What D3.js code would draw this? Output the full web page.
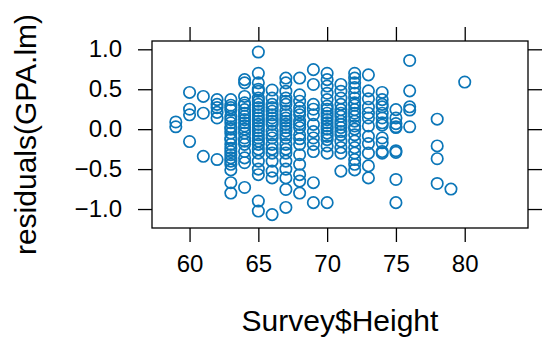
<!DOCTYPE html>
<html>
<head>
<meta charset="utf-8">
<script src="https://cdn.jsdelivr.net/npm/d3@7"></script>
<style>
  body { margin: 0; background: #fff; }
  text { font-family: "Liberation Sans", Arial, Helvetica, sans-serif; fill: #000; }
</style>
</head>
<body>
<div id="chart"></div>
<script>
// Survey$Height (inches) and residuals(GPA.lm), grouped by height
const heights = [59, 60, 61, 62, 63, 64, 65, 66, 67, 68, 69, 70, 71, 72, 73, 74, 75, 76, 78, 79, 80];
const residualsByHeight = [
    [0.09, 0.03],
    [0.46, 0.25, 0.18, -0.155],
    [0.41, 0.20, -0.34],
    [0.37, 0.31, 0.27, 0.21, 0.14, -0.38],
    [0.37, 0.30, 0.27, 0.24, 0.16, 0.12, 0.08, 0.03, 0.0, -0.05, -0.11, -0.13, -0.19, -0.24, -0.28, -0.32, -0.36, -0.40, -0.44, -0.51, -0.67, -0.80],
    [0.62, 0.58, 0.41, 0.33, 0.30, 0.245, 0.20, 0.16, 0.12, 0.08, 0.04, 0.0, -0.05, -0.11, -0.15, -0.19, -0.28, -0.36, -0.42, -0.73],
    [0.966, 0.70, 0.58, 0.50, 0.475, 0.39, 0.35, 0.31, 0.27, 0.225, 0.18, 0.14, 0.10, 0.06, 0.02, -0.025, -0.07, -0.11, -0.15, -0.19, -0.25, -0.30, -0.40, -0.50, -0.57, -0.90, -1.025],
    [0.49, 0.39, 0.31, 0.27, 0.225, 0.18, 0.14, 0.10, 0.06, -0.025, -0.07, -0.11, -0.19, -0.25, -0.30, -0.40, -0.525, -0.61, -1.07],
    [0.64, 0.58, 0.475, 0.39, 0.35, 0.31, 0.225, 0.18, 0.14, 0.10, 0.06, 0.02, -0.025, -0.07, -0.11, -0.19, -0.25, -0.30, -0.40, -0.50, -0.61, -0.755, -0.98],
    [0.64, 0.43, 0.35, 0.27, 0.22, 0.18, 0.10, 0.06, 0.02, -0.07, -0.12, -0.19, -0.32, -0.44, -0.57, -0.65, -0.80],
    [0.745, 0.56, 0.31, 0.25, 0.18, 0.06, -0.03, -0.11, -0.19, -0.28, -0.67, -0.92],
    [0.70, 0.62, 0.54, 0.45, 0.37, 0.29, 0.25, 0.20, 0.16, 0.12, 0.08, 0.04, 0.0, -0.05, -0.09, -0.13, -0.21, -0.30, -0.92],
    [0.56, 0.475, 0.39, 0.31, 0.245, 0.20, 0.16, 0.10, 0.06, 0.02, -0.03, -0.07, -0.15, -0.23, -0.30, -0.525],
    [0.70, 0.64, 0.58, 0.52, 0.45, 0.39, 0.33, 0.30, 0.245, 0.20, 0.16, 0.10, 0.04, 0.0, -0.07, -0.15, -0.23, -0.30, -0.38, -0.44, -0.51],
    [0.68, 0.48, 0.38, 0.275, 0.20, 0.14, 0.04, -0.09, -0.18, -0.30, -0.46, -0.61],
    [0.46, 0.37, 0.31, 0.28, 0.20, 0.14, 0.08, 0.05, -0.11, -0.17, -0.28, -0.30],
    [0.245, 0.14, 0.07, 0.03, 0.02, -0.27, -0.29, -0.63, -0.92],
    [0.86, 0.48, 0.28, 0.24, 0.03],
    [0.125, -0.21, -0.37, -0.68],
    [-0.75],
    [0.59]
];
const xTicks = [60, 65, 70, 75, 80];
const yTicks = [-1.0, -0.5, 0.0, 0.5, 1.0];
const xDomain = [57.27, 84.6];
const yDomain = [-1.2375, 1.104];

const data = [];
heights.forEach((h, i) => {
    residualsByHeight[i].forEach(r => data.push({ height: h, resid: r }));
});

const width = 543;
const height = 345;
const marginTop = 41;
const marginRight = 15;
const marginBottom = 117;
const marginLeft = 152;
const tickLen = 14;
const col = "#0b76b8";

const x = d3.scaleLinear()
    .domain(xDomain)
    .range([marginLeft, width - marginRight]);

const y = d3.scaleLinear()
    .domain(yDomain)
    .range([height - marginBottom, marginTop]);

const svg = d3.select("#chart")
    .append("svg")
    .attr("width", width)
    .attr("height", height);

// axes: labels on left and bottom, bare ticks on top and right
svg.append("g")
    .attr("transform", `translate(0,${height - marginBottom})`)
    .call(d3.axisBottom(x).tickValues(xTicks).tickSize(tickLen).tickPadding(13))
    .call(g => g.select(".domain").remove())
    .selectAll(".tick text")
    .style("font-size", "24px");

svg.append("g")
    .attr("transform", `translate(0,${marginTop})`)
    .call(d3.axisTop(x).tickValues(xTicks).tickSize(tickLen).tickFormat(""))
    .call(g => g.select(".domain").remove());

svg.append("g")
    .attr("transform", `translate(${marginLeft},0)`)
    .call(d3.axisLeft(y).tickValues(yTicks).tickSize(tickLen).tickPadding(16).tickFormat(d3.format(".1f")))
    .call(g => g.select(".domain").remove())
    .selectAll(".tick text")
    .style("font-size", "24px");

svg.append("g")
    .attr("transform", `translate(${width - marginRight},0)`)
    .call(d3.axisRight(y).tickValues(yTicks).tickSize(tickLen).tickFormat(""))
    .call(g => g.select(".domain").remove());

svg.selectAll(".tick line")
    .attr("stroke", "#000")
    .attr("stroke-width", 1.3);

// panel border
svg.append("rect")
    .attr("x", marginLeft)
    .attr("y", marginTop)
    .attr("width", width - marginRight - marginLeft)
    .attr("height", height - marginBottom - marginTop)
    .attr("fill", "none")
    .attr("stroke", "#000")
    .attr("stroke-width", 1.3);

// points
svg.append("g")
    .selectAll("circle")
    .data(data)
    .enter()
    .append("circle")
    .attr("cx", d => x(d.height))
    .attr("cy", d => y(d.resid))
    .attr("r", 5.7)
    .attr("fill", "none")
    .attr("stroke", col)
    .attr("stroke-width", 1.7);

// axis titles
svg.append("text")
    .attr("x", (marginLeft + width - marginRight) / 2)
    .attr("y", 331)
    .attr("text-anchor", "middle")
    .style("font-size", "30px")
    .text("Survey$Height");

svg.append("text")
    .attr("transform", `translate(36,${(marginTop + height - marginBottom) / 2}) rotate(-90)`)
    .attr("text-anchor", "middle")
    .style("font-size", "30px")
    .text("residuals(GPA.lm)");
</script>
</body>
</html>
